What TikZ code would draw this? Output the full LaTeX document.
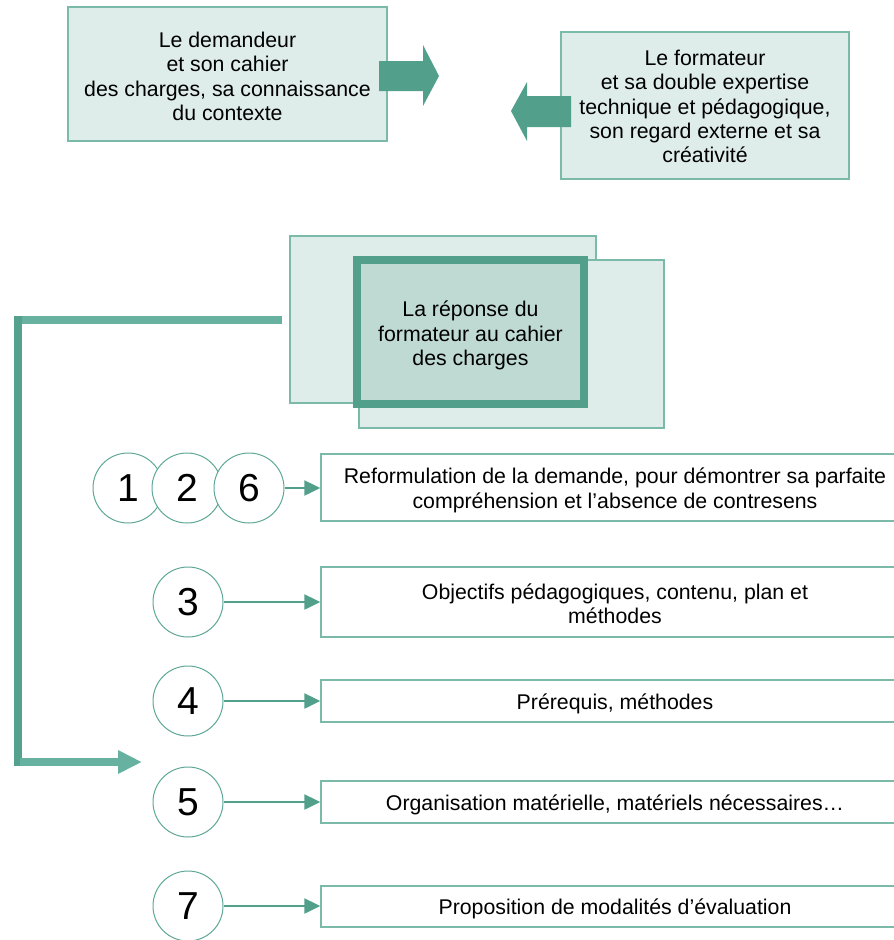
\documentclass[tikz,border=0pt]{standalone}
\usepackage{fontspec}
\setmainfont{Liberation Sans}
\usetikzlibrary{arrows.meta}
\definecolor{tealdark}{HTML}{52A08C}
\definecolor{teallight}{HTML}{67B1A0}
\definecolor{boxfill}{HTML}{DEEDE9}
\definecolor{boxline}{HTML}{7BBAA9}
\definecolor{frontfill}{HTML}{BEDAD2}
\definecolor{circline}{HTML}{5FA897}
\begin{document}
\begin{tikzpicture}[x=1pt,y=-1pt,
  txt/.style={font=\fontsize{21.3}{24.4}\selectfont, align=center, inner sep=0pt},
  bigbox/.style={draw=boxline, fill=boxfill, line width=1.2pt, inner sep=0pt},
  frontbox/.style={draw=tealdark, fill=frontfill, line width=8pt, inner sep=0pt},
  itembox/.style={draw=boxline, fill=white, line width=1.5pt, inner sep=0pt},
  numcircle/.style={circle, draw=circline, fill=white, line width=1pt,
    minimum size=70pt, inner sep=0pt, font=\fontsize{39}{39}\selectfont},
  link/.style={draw=tealdark, line width=2.5pt, -{Triangle[length=16pt,width=15pt]}},
  blockarrow/.style={fill=tealdark},
  conn/.style={line width=8pt}]
\clip (0,0) rectangle (894,940);
\fill[white] (0,0) rectangle (894,940);

% top: the two parties
\node[bigbox, minimum width=319pt, minimum height=134pt] (dem) at (227.5,74) {};
\node[txt] (demtxt) at ([yshift=-2.5pt]dem.center)
  {Le demandeur\\et son cahier\\des charges, sa connaissance\\du contexte};
\node[bigbox, minimum width=288pt, minimum height=147pt] (form) at (705,105.5) {};
\node[txt] (formtxt) at ([yshift=-1pt]form.center)
  {Le formateur\\et sa double expertise\\technique et pédagogique,\\son regard externe et sa\\créativité};
\fill[blockarrow] (379,61) -- (423,61) -- (423,45) -- (439,76) -- (423,106) -- (423,91) -- (379,91) -- cycle;
\fill[blockarrow] (571,96) -- (527,96) -- (527,82) -- (511,111) -- (527,141) -- (527,127) -- (571,127) -- cycle;

% centre: the trainer's answer
\node[bigbox, minimum width=306pt, minimum height=167pt] (back1) at (443,319.5) {};
\node[bigbox, minimum width=305pt, minimum height=168pt] (back2) at (511.5,344) {};
\node[frontbox, minimum width=227pt, minimum height=144pt] (rep) at (470.5,332) {};
\node[txt] (reptxt) at ([yshift=-3.5pt]rep.center)
  {La réponse du\\formateur au cahier\\des charges};

% elbow connector down to the list
\coordinate (cstart) at (282,320);
\coordinate (ctop) at (20,320);
\coordinate (vtop) at (18,316);
\coordinate (vbot) at (18,766);
\coordinate (cbot) at (20,762);
\coordinate (cend) at (142,762);
\draw[conn, teallight] (cstart) -- (ctop);
\draw[conn, tealdark!92!teallight] (vtop) -- (vbot);
\draw[conn, teallight, -{Triangle[length=24pt,width=22pt]}] (cbot) -- (cend);

% list items
\node[itembox, minimum width=588pt, minimum height=67pt] (i1) at (615,487.5) {};
\node[txt] (i1txt) at ([yshift=-3pt]i1.center)
  {Reformulation de la demande, pour démontrer sa parfaite\\compréhension et l’absence de contresens};
\node[itembox, minimum width=588pt, minimum height=70pt] (i2) at (615,602) {};
\node[txt] (i2txt) at ([yshift=-2pt]i2.center)
  {Objectifs pédagogiques, contenu, plan et\\méthodes};
\node[itembox, minimum width=588pt, minimum height=42pt] (i3) at (615,701) {};
\node[txt] (i3txt) at ([yshift=-3pt]i3.center) {Prérequis, méthodes};
\node[itembox, minimum width=588pt, minimum height=42pt] (i4) at (615,802) {};
\node[txt] (i4txt) at ([yshift=-3pt]i4.center) {Organisation matérielle, matériels nécessaires…};
\node[itembox, minimum width=588pt, minimum height=41pt] (i5) at (615,906.5) {};
\node[txt] (i5txt) at ([yshift=-2pt]i5.center) {Proposition de modalités d’évaluation};

% numbered circles
\node[numcircle] (c1) at (128,488) {1};
\node[numcircle] (c2) at (187,488) {2};
\node[numcircle] (c6) at (249,488) {6};
\node[numcircle] (c3) at (188,602) {3};
\node[numcircle] (c4) at (188,701) {4};
\node[numcircle] (c5) at (188,802) {5};
\node[numcircle] (c7) at (188,906) {7};

\draw[link] (c6.east) -- (c6.east -| i1.west);
\draw[link] (c3.east) -- (c3.east -| i2.west);
\draw[link] (c4.east) -- (c4.east -| i3.west);
\draw[link] (c5.east) -- (c5.east -| i4.west);
\draw[link] (c7.east) -- (c7.east -| i5.west);
\end{tikzpicture}
\end{document}
